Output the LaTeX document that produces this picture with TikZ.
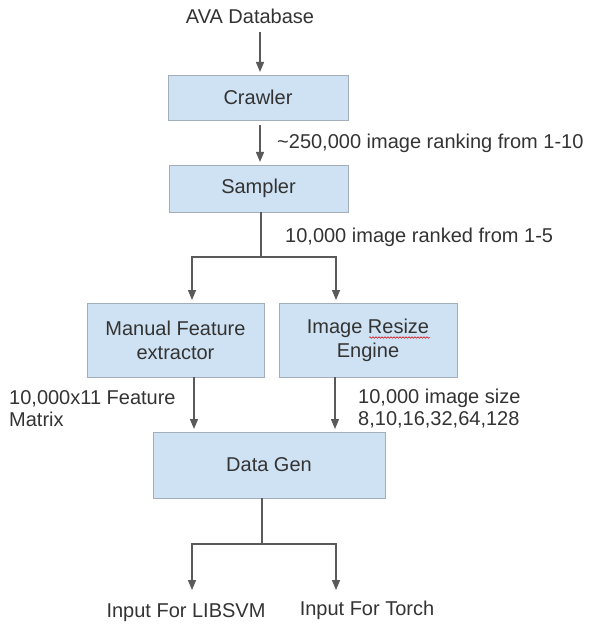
\documentclass[tikz,border=0pt]{standalone}
\usepackage{fontspec}
\setmainfont{Liberation Sans}
\usetikzlibrary{arrows.meta,decorations.pathmorphing}
\definecolor{boxfill}{HTML}{CFE2F3}
\definecolor{boxline}{HTML}{A3AEB8}
\definecolor{wire}{HTML}{5A5A5A}
\definecolor{ink}{HTML}{333333}
\tikzset{
  stagebox/.style={draw=boxline, fill=boxfill, line width=0.9pt, inner sep=0pt,
    text=ink, align=center, font=\fontsize{20}{24}\selectfont},
  note/.style={inner sep=0pt, text=ink, align=left, font=\fontsize{20}{22}\selectfont},
  wireline/.style={draw=wire, line width=1.3pt},
  arr/.style={wireline, -{Triangle[width=8pt,length=10pt]}, shorten >=3pt}
}
\begin{document}
\begin{tikzpicture}[x=1pt,y=-1pt]
\useasboundingbox (0,0) rectangle (594,628);

% processing stages
\node[stagebox, minimum width=180pt, minimum height=45pt] (crawler) at (258,97.5) {Crawler};
\node[stagebox, minimum width=179pt, minimum height=47pt] (sampler) at (258.5,188.5) {Sampler};
\node[stagebox, minimum width=177pt, minimum height=74pt] (manual) at (175.5,340) {Manual Feature\\extractor};
\node[stagebox, minimum width=178pt, minimum height=74pt] (resize) at (368,340) {Image Resize\\Engine};
\node[stagebox, minimum width=232pt, minimum height=66pt] (datagen) at (269,465) {Data Gen};

% spell-check squiggle under "Resize"
\draw[red!80!black, line width=0.5pt, decorate,
  decoration={snake, segment length=3pt, amplitude=0.8pt}] (369,337.5) -- (430,337.5);

% source and sinks
\node[note] (ava) at (250,16) {AVA Database};
\node[note] (libsvm) at (186,613) {Input For LIBSVM};
\node[note] (torch) at (367,610) {Input For Torch};

% edge labels
\node[note, anchor=west] (lab1) at (277,143) {\textasciitilde250,000 image ranking from 1-10};
\node[note, anchor=west] (lab2) at (285,237) {10,000 image ranked from 1-5};
\node[note, anchor=west] (lab3) at (9,409) {10,000x11 Feature\\Matrix};
\node[note, anchor=west] (lab4) at (358,409) {10,000 image size\\8,10,16,32,64,128};

% junction and branch points
\coordinate (avaOut) at (260,32);
\coordinate (crIn) at (260,75);
\coordinate (crOut) at (260,125);
\coordinate (saIn) at (260,165);
\coordinate (saOut) at (261,212);
\coordinate (split1) at (261,257);
\coordinate (maIn) at (192,303);
\coordinate (reIn) at (336,303);
\coordinate (maOut) at (194,377);
\coordinate (reOut) at (335,377);
\coordinate (dgInL) at (194,432);
\coordinate (dgInR) at (335,432);
\coordinate (dgOut) at (262,498);
\coordinate (split2) at (262,544);
\coordinate (libIn) at (192,593);
\coordinate (torIn) at (336,593);

% connectors
\draw[arr] (avaOut) -- (crIn);
\draw[arr] (crOut) -- (saIn);
\draw[wireline] (saOut) -- (split1);
\draw[arr] (split1) -| (maIn);
\draw[arr] (split1) -| (reIn);
\draw[arr] (maOut) -- (dgInL);
\draw[arr] (reOut) -- (dgInR);
\draw[wireline] (dgOut) -- (split2);
\draw[arr] (split2) -| (libIn);
\draw[arr] (split2) -| (torIn);
\end{tikzpicture}
\end{document}
